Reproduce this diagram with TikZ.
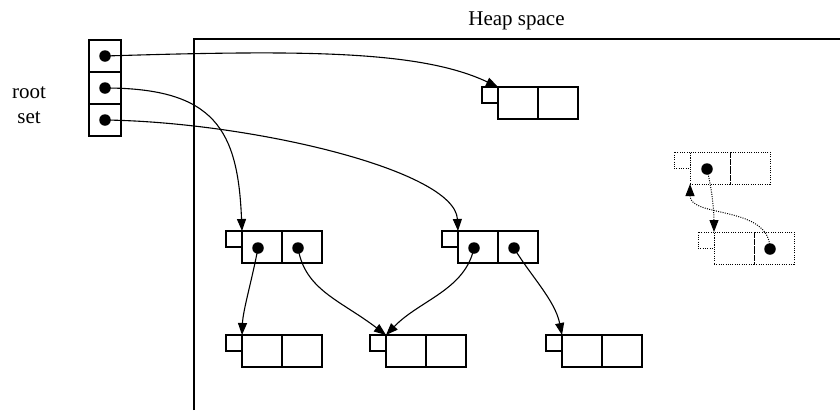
\documentclass[tikz,border=0pt]{standalone}
\usepackage{fontspec}
\setmainfont{Liberation Serif}
\usetikzlibrary{arrows.meta}
\newcommand{\heapobj}[4][]{%
  \node[cell,#1] (#2a) at (#3,#4) {};
  \node[cell,#1] (#2b) at (#2a.north east) {};
  \node[tagbox,#1] (#2t) at (#2a.north west) {};
}
\begin{document}
\begin{tikzpicture}[x=1pt,y=-1pt,
  cell/.style={draw,line width=1.2pt,minimum width=40pt,minimum height=32pt,inner sep=0pt,outer sep=0pt,anchor=north west},
  rootcell/.style={draw,line width=1.2pt,minimum width=32pt,minimum height=32pt,inner sep=0pt,outer sep=0pt,anchor=north west},
  tagbox/.style={draw,line width=1.2pt,minimum width=16pt,minimum height=16pt,inner sep=0pt,outer sep=0pt,anchor=north east},
  dot/.style={circle,fill=black,minimum size=11.5pt,inner sep=0pt},
  ptr/.style={line width=1.1pt,-{Triangle[length=12pt,width=9pt]}},
  dotline/.style={line width=1pt,dash pattern=on 1pt off 1.3pt},
  lbl/.style={font=\fontsize{21}{24}\selectfont,inner sep=0pt,anchor=base}
]
\useasboundingbox (0,0) rectangle (840,413);
% heap frame
\draw[line width=1.2pt] (194,410) -- (194,39) -- (840,39);
\node[lbl] (heaplbl) at (516.5,25) {Heap space};
\node[lbl] (rootlbl) at (29,98) {root};
\node[lbl] (setlbl) at (29,123) {set};
% root set
\node[rootcell] (r1) at (89,40) {};
\node[rootcell] (r2) at (89,72) {};
\node[rootcell] (r3) at (89,104) {};
\node[dot] (r1d) at (r1.center) {};
\node[dot] (r2d) at (r2.center) {};
\node[dot] (r3d) at (r3.center) {};
% objects
\heapobj{o1}{498}{87}
\heapobj{ml}{242}{231}
\heapobj{mr}{458}{231}
\heapobj{bl}{242}{335}
\heapobj{bm}{386}{335}
\heapobj{br}{562}{335}
\heapobj[dotline]{td}{690}{152}
\heapobj[dotline]{bd}{714}{232}
\node[dot] (mld1) at ([xshift=-4pt,yshift=-1pt]mla.center) {};
\node[dot] (mld2) at ([xshift=-4pt,yshift=-1pt]mlb.center) {};
\node[dot] (mrd1) at ([xshift=-4pt,yshift=-1pt]mra.center) {};
\node[dot] (mrd2) at ([xshift=-4pt,yshift=-1pt]mrb.center) {};
\node[dot] (tdd) at ([xshift=-3pt,yshift=-1pt]tda.center) {};
\node[dot] (bdd) at ([xshift=-4pt,yshift=-1pt]bdb.center) {};
% pointers
\draw[ptr] (r1d.center) .. controls (300,50) and (420,50) .. (o1a.north west);
\draw[ptr] (r2d.center) .. controls (215,88) and (238,130) .. (mla.north west);
\draw[ptr] (r3d.center) .. controls (250,122) and (455,170) .. (mra.north west);
\draw[ptr] (mld1.center) .. controls (252,280) and (243,310) .. (bla.north west);
\draw[ptr] (mld2.center) .. controls (305,290) and (340,300) .. (bma.north west);
\draw[ptr] (mrd1.center) .. controls (465,290) and (420,300) .. (bma.north west);
\draw[ptr] (mrd2.center) .. controls (530,275) and (555,300) .. (bra.north west);
\draw[ptr,dotline] (tdd.center) .. controls (712,190) and (714,210) .. (bda.north west);
\draw[ptr,dotline] (bdd.center) .. controls (770,205) and (690,218) .. (tda.south west);
\end{tikzpicture}
\end{document}
